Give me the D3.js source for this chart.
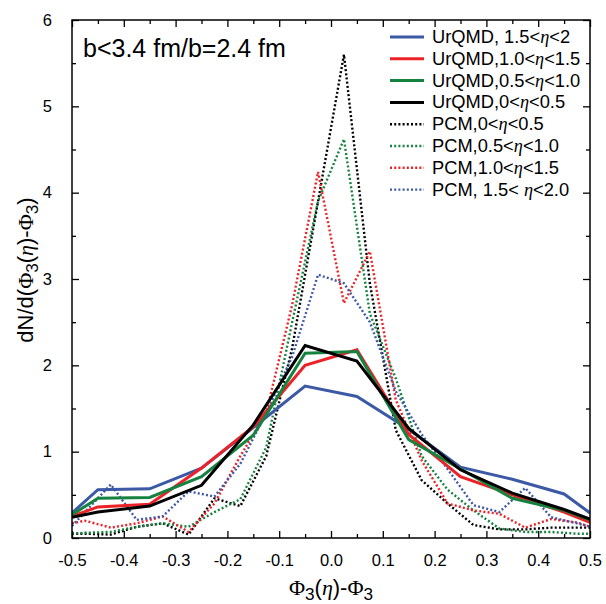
<!DOCTYPE html>
<html>
<head>
<meta charset="utf-8">
<script src="https://cdn.jsdelivr.net/npm/d3@7"></script>
<style>
  body { margin: 0; background: #fff; }
  svg text { font-family: "Liberation Sans", Arial, Helvetica, sans-serif; fill: #000; }
  .greek { font-family: "Liberation Serif", "DejaVu Serif", serif; }
</style>
</head>
<body>
<div id="chart"></div>
<script>
// x positions of the UrQMD points (bin centres plus the two edges)
const urqmdX = [-0.5, -0.45, -0.35, -0.25, -0.15, -0.05, 0.05, 0.15, 0.25, 0.35, 0.45, 0.5]
const urqmdEta15to2  = [0.29, 0.56, 0.57, 0.81, 1.28, 1.76, 1.64, 1.26, 0.82, 0.68, 0.51, 0.29]
const urqmdEta10to15 = [0.25, 0.36, 0.39, 0.81, 1.29, 2.00, 2.18, 1.20, 0.71, 0.50, 0.30, 0.18]
const urqmdEta05to10 = [0.27, 0.46, 0.47, 0.71, 1.19, 2.14, 2.16, 1.14, 0.80, 0.46, 0.32, 0.21]
const urqmdEta0to05  = [0.24, 0.30, 0.37, 0.61, 1.31, 2.23, 2.05, 1.27, 0.79, 0.52, 0.33, 0.22]

// x positions of the PCM points (finer bins)
const pcmX = [-0.5, -0.475, -0.425, -0.375, -0.325, -0.275, -0.225, -0.175, -0.125, -0.075, -0.025,
              0.025, 0.075, 0.125, 0.175, 0.225, 0.275, 0.325, 0.375, 0.425, 0.475, 0.5]
const pcmEta0to05  = [0.05, 0.05, 0.04, 0.13, 0.17, 0.04, 0.46, 0.37, 0.95, 2.20, 3.90,
                      5.60, 2.95, 1.25, 0.67, 0.40, 0.15, 0.10, 0.10, 0.12, 0.12, 0.12]
const pcmEta05to10 = [0.05, 0.06, 0.07, 0.13, 0.17, 0.13, 0.30, 0.45, 1.05, 2.50, 3.90,
                      4.62, 2.60, 1.85, 0.95, 0.56, 0.32, 0.11, 0.07, 0.07, 0.05, 0.05]
const pcmEta10to15 = [0.17, 0.20, 0.12, 0.17, 0.25, 0.07, 0.40, 0.95, 1.45, 2.70, 4.24,
                      2.72, 3.32, 1.60, 0.90, 0.40, 0.32, 0.28, 0.12, 0.22, 0.18, 0.13]
const pcmEta15to20 = [0.14, 0.30, 0.62, 0.21, 0.25, 0.54, 0.48, 0.86, 1.45, 2.10, 3.05,
                      2.95, 2.50, 1.70, 1.20, 0.80, 0.38, 0.30, 0.58, 0.24, 0.17, 0.13]

const xTicks = [-0.5, -0.4, -0.3, -0.2, -0.1, 0, 0.1, 0.2, 0.3, 0.4, 0.5]
const yTicks = [0, 1, 2, 3, 4, 5, 6]
const legendLabels = ["UrQMD, 1.5<η<2", "UrQMD,1.0<η<1.5", "UrQMD,0.5<η<1.0", "UrQMD,0<η<0.5",
                      "PCM,0<η<0.5", "PCM,0.5<η<1.0", "PCM,1.0<η<1.5", "PCM, 1.5< η<2.0"]

const blue = "#3c59a6", red = "#ec2227", green = "#168240", black = "#000"

const series = [
  {xs: urqmdX, ys: urqmdEta15to2,  color: blue,  dotted: false},
  {xs: urqmdX, ys: urqmdEta10to15, color: red,   dotted: false},
  {xs: urqmdX, ys: urqmdEta05to10, color: green, dotted: false},
  {xs: urqmdX, ys: urqmdEta0to05,  color: black, dotted: false},
  {xs: pcmX,   ys: pcmEta0to05,    color: black, dotted: true},
  {xs: pcmX,   ys: pcmEta05to10,   color: green, dotted: true},
  {xs: pcmX,   ys: pcmEta10to15,   color: red,   dotted: true},
  {xs: pcmX,   ys: pcmEta15to20,   color: blue,  dotted: true}
]
series.forEach((s, i) => s.label = legendLabels[i])

const width = 606
const height = 604

const x = d3.scaleLinear().domain([-0.5, 0.5]).range([72, 590])
const y = d3.scaleLinear().domain([0, 6]).range([538, 20])

const svg = d3.select("#chart")
  .append("svg")
    .attr("width", width)
    .attr("height", height)

svg.append("clipPath").attr("id", "plotclip")
  .append("rect")
    .attr("x", x(-0.5)).attr("y", y(6))
    .attr("width", x(0.5) - x(-0.5)).attr("height", y(0) - y(6))

// curves
const line = d3.line()
  .x(d => x(d[0]))
  .y(d => y(d[1]))

const drawOrder = [4, 5, 6, 7, 0, 1, 2, 3]
svg.append("g")
    .attr("clip-path", "url(#plotclip)")
  .selectAll("path")
  .data(drawOrder.map(i => series[i]))
  .join("path")
    .attr("d", s => line(s.xs.map((v, i) => [v, s.ys[i]])))
    .attr("fill", "none")
    .attr("stroke", s => s.color)
    .attr("stroke-width", s => s.dotted ? 2.4 : 3)
    .attr("stroke-dasharray", s => s.dotted ? "2,2.2" : null)
    .attr("stroke-linejoin", "miter")

// axes: ticks pointing inwards on all four sides
const xMinor = d3.range(-0.45, 0.5, 0.1)
const yMinor = d3.range(0.5, 6, 1)

svg.append("g")
    .attr("transform", `translate(0,${y(0)})`)
    .call(d3.axisBottom(x).tickValues(xTicks).tickSizeInner(-7).tickSizeOuter(0)
      .tickPadding(16).tickFormat(d => d === 0 ? "0.0" : d.toFixed(1)))
    .call(g => g.selectAll("text").attr("font-size", 16.5))
svg.append("g")
    .attr("transform", `translate(0,${y(0)})`)
    .call(d3.axisBottom(x).tickValues(xMinor).tickSizeInner(-4).tickSizeOuter(0).tickFormat(""))
svg.append("g")
    .attr("transform", `translate(0,${y(6)})`)
    .call(d3.axisTop(x).tickValues(xTicks).tickSizeInner(-7).tickSizeOuter(0).tickFormat(""))
svg.append("g")
    .attr("transform", `translate(0,${y(6)})`)
    .call(d3.axisTop(x).tickValues(xMinor).tickSizeInner(-4).tickSizeOuter(0).tickFormat(""))

svg.append("g")
    .attr("transform", `translate(${x(-0.5)},0)`)
    .call(d3.axisLeft(y).tickValues(yTicks).tickSizeInner(-7).tickSizeOuter(0)
      .tickPadding(20).tickFormat(d3.format("d")))
    .call(g => g.selectAll("text").attr("font-size", 16.5))
svg.append("g")
    .attr("transform", `translate(${x(-0.5)},0)`)
    .call(d3.axisLeft(y).tickValues(yMinor).tickSizeInner(-4).tickSizeOuter(0).tickFormat(""))
svg.append("g")
    .attr("transform", `translate(${x(0.5)},0)`)
    .call(d3.axisRight(y).tickValues(yTicks).tickSizeInner(-7).tickSizeOuter(0).tickFormat(""))
svg.append("g")
    .attr("transform", `translate(${x(0.5)},0)`)
    .call(d3.axisRight(y).tickValues(yMinor).tickSizeInner(-4).tickSizeOuter(0).tickFormat(""))

svg.selectAll(".domain").remove()
svg.selectAll(".tick line").attr("stroke", "#000").attr("stroke-width", 1.3)

// frame
svg.append("rect")
    .attr("x", x(-0.5)).attr("y", y(6))
    .attr("width", x(0.5) - x(-0.5)).attr("height", y(0) - y(6))
    .attr("fill", "none")
    .attr("stroke", "#000")
    .attr("stroke-width", 1.5)

// helper: writes a label where η is set in italic serif
function addRich(sel, str) {
  str.split(/(η)/).forEach(part => {
    if (part === "") return
    const t = sel.append("tspan").text(part)
    if (part === "η") t.attr("class", "greek").attr("font-style", "italic")
  })
}

// legend
const legend = svg.append("g")
series.forEach((s, i) => {
  const cy = 37 + i * 21.8
  legend.append("line")
      .attr("x1", 390).attr("x2", 424)
      .attr("y1", cy).attr("y2", cy)
      .attr("stroke", s.color)
      .attr("stroke-width", s.dotted ? 2.4 : 3)
      .attr("stroke-dasharray", s.dotted ? "2,2.2" : null)
  const t = legend.append("text")
      .attr("x", 432).attr("y", cy + 6)
      .attr("font-size", 18.3)
  addRich(t, s.label)
})

// annotation
svg.append("text")
    .attr("x", 83).attr("y", 57)
    .attr("font-size", 25)
    .text("b<3.4 fm/b=2.4 fm")

// axis titles: list of [text, kind] pieces, kind = "", "g" (greek), "gi" (greek italic), "sub"
const titlePieces = {
  x: [["Φ", "g"], ["3", "sub"], ["(", ""], ["η", "gi"], [")-", ""], ["Φ", "g"], ["3", "sub"]],
  y: [["dN/d(", ""], ["Φ", "g"], ["3", "sub"], ["(", ""], ["η", "gi"], [")-", ""], ["Φ", "g"], ["3", "sub"], [")", ""]]
}
function writePieces(t, pieces) {
  let shifted = false
  pieces.forEach(([txt, kind]) => {
    const s = t.append("tspan").text(txt)
    if (kind === "sub") { s.attr("dy", 5).attr("font-size", "78%"); shifted = true; return }
    if (shifted) { s.attr("dy", -5); shifted = false }
    if (kind === "g" || kind === "gi") s.attr("class", "greek")
    if (kind === "gi") s.attr("font-style", "italic")
  })
}

const xt = svg.append("text")
    .attr("x", (x(-0.5) + x(0.5)) / 2).attr("y", 595)
    .attr("text-anchor", "middle")
    .attr("font-size", 22)
writePieces(xt, titlePieces.x)

const yt = svg.append("text")
    .attr("transform", "translate(33,270) rotate(-90)")
    .attr("text-anchor", "middle")
    .attr("font-size", 22)
writePieces(yt, titlePieces.y)
</script>
</body>
</html>
